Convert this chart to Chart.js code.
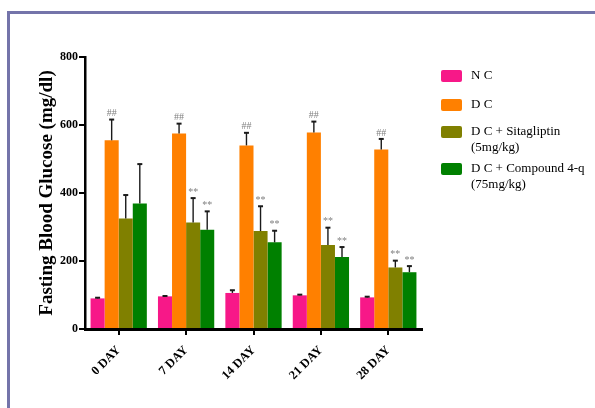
<!DOCTYPE html>
<html>
<head>
<meta charset="utf-8">
<script src="https://cdn.jsdelivr.net/npm/chart.js@4/dist/chart.umd.min.js"></script>
<style>
  html, body { margin: 0; padding: 0; background: #fff; }
  #wrap { width: 595px; height: 408px; }
</style>
</head>
<body>
<div id="wrap"><canvas id="c" width="595" height="408"></canvas></div>
<script>
// Fasting blood glucose by treatment group over 28 days (mean + SD)
const days = ['0 DAY', '7 DAY', '14 DAY', '21 DAY', '28 DAY'];
const groupNames = ['N C', 'D C', 'D C + Sitagliptin\n(5mg/kg)', 'D C + Compound 4-q\n(75mg/kg)'];

const ncMean   = [90, 96, 106, 99, 93];
const ncSD     = [2, 1, 8, 2, 2];
const dcMean   = [555, 575, 540, 578, 528];
const dcSD     = [61, 29, 37, 32, 31];
const sitaMean = [325, 313, 288, 247, 181];
const sitaSD   = [69, 72, 73, 51, 20];
const compMean = [369, 292, 255, 212, 167];
const compSD   = [116, 54, 34, 29, 18];

const dcMarks   = ['##', '##', '##', '##', '##'];
const sitaMarks = ['', '**', '**', '**', '**'];
const compMarks = ['', '**', '**', '**', '**'];
const ncMarks   = ['', '', '', '', ''];

const yTicks = [0, 200, 400, 600, 800];

const colors = ['#F71888', '#FF8000', '#808000', '#008000'];
const SERIF = "'Liberation Serif', 'Times New Roman', serif";

const datasets = [
  { label: groupNames[0], data: ncMean,   sd: ncSD,   marks: ncMarks },
  { label: groupNames[1], data: dcMean,   sd: dcSD,   marks: dcMarks },
  { label: groupNames[2], data: sitaMean, sd: sitaSD, marks: sitaMarks },
  { label: groupNames[3], data: compMean, sd: compSD, marks: compMarks }
].map((d, i) => Object.assign(d, {
  backgroundColor: colors[i],
  borderWidth: 0,
  barPercentage: 1.0,
  categoryPercentage: 0.835
}));

// outer frame
const framePlugin = {
  id: 'frame',
  beforeDraw(chart) {
    const ctx = chart.ctx;
    ctx.save();
    ctx.strokeStyle = '#7474aa';
    ctx.lineWidth = 3;
    ctx.strokeRect(8.5, 12.5, 700, 500);
    ctx.restore();
  }
};

// upper error bars + significance marks
const errorPlugin = {
  id: 'errors',
  afterDatasetsDraw(chart) {
    const ctx = chart.ctx;
    const y = chart.scales.y;
    ctx.save();
    chart.data.datasets.forEach((ds, di) => {
      const meta = chart.getDatasetMeta(di);
      meta.data.forEach((bar, i) => {
        const x = bar.x;
        const top = y.getPixelForValue(ds.data[i] + ds.sd[i]);
        const base = y.getPixelForValue(ds.data[i]);
        ctx.strokeStyle = '#1a1a1a';
        ctx.lineWidth = 1.4;
        ctx.beginPath();
        ctx.moveTo(x, base);
        ctx.lineTo(x, top);
        ctx.stroke();
        ctx.lineWidth = 2;
        ctx.beginPath();
        ctx.moveTo(x - 2.5, top);
        ctx.lineTo(x + 2.5, top);
        ctx.stroke();
        const m = ds.marks[i];
        if (m) {
          ctx.fillStyle = '#808080';
          ctx.font = "10px " + SERIF;
          ctx.textAlign = 'center';
          ctx.textBaseline = 'bottom';
          ctx.fillText(m, x, top - 1);
        }
      });
    });
    ctx.restore();
  }
};

// legend to the right of the plot
const legendPlugin = {
  id: 'sideLegend',
  afterDraw(chart) {
    const ctx = chart.ctx;
    const rows = [76, 105, 132, 169];
    ctx.save();
    chart.data.datasets.forEach((ds, i) => {
      const cy = rows[i];
      ctx.fillStyle = ds.backgroundColor;
      ctx.beginPath();
      ctx.roundRect(441, cy - 6, 21, 12, 2);
      ctx.fill();
      ctx.fillStyle = '#000';
      ctx.font = "13px " + SERIF;
      ctx.textAlign = 'left';
      ctx.textBaseline = 'middle';
      ds.label.split('\n').forEach((line, k) => {
        ctx.fillText(line, 471, cy + k * 16);
      });
    });
    ctx.restore();
  }
};

new Chart(document.getElementById('c'), {
  type: 'bar',
  data: { labels: days, datasets },
  options: {
    responsive: false,
    animation: false,
    layout: { padding: { left: 0, top: 57, right: 173, bottom: 0 } },
    plugins: { legend: { display: false }, tooltip: { enabled: false } },
    scales: {
      x: {
        grid: { display: true, drawOnChartArea: false, drawTicks: true, tickLength: 6, color: '#000', lineWidth: 2, offset: false },
        border: { display: true, color: '#000', width: 3 },
        ticks: {
          color: '#000',
          font: { family: SERIF, size: 12.5, weight: 'bold' },
          maxRotation: 45, minRotation: 45, padding: 8
        },
        afterFit(scale) { scale.height = 79; }
      },
      y: {
        min: 0, max: 800,
        afterBuildTicks(scale) { scale.ticks = yTicks.map(v => ({ value: v })); },
        grid: { display: true, drawOnChartArea: false, drawTicks: true, tickLength: 6, color: '#000', lineWidth: 2 },
        border: { display: true, color: '#000', width: 2.5 },
        ticks: {
          color: '#000',
          font: { family: SERIF, size: 12, weight: 'bold' },
          padding: 1
        },
        title: {
          display: true,
          text: 'Fasting Blood Glucose (mg/dl)',
          color: '#000',
          font: { family: SERIF, size: 19, weight: 'bold' },
          padding: { top: 36, bottom: 0 }
        },
        afterFit(scale) { scale.width = 85; }
      }
    }
  },
  plugins: [framePlugin, errorPlugin, legendPlugin]
});
</script>
</body>
</html>
